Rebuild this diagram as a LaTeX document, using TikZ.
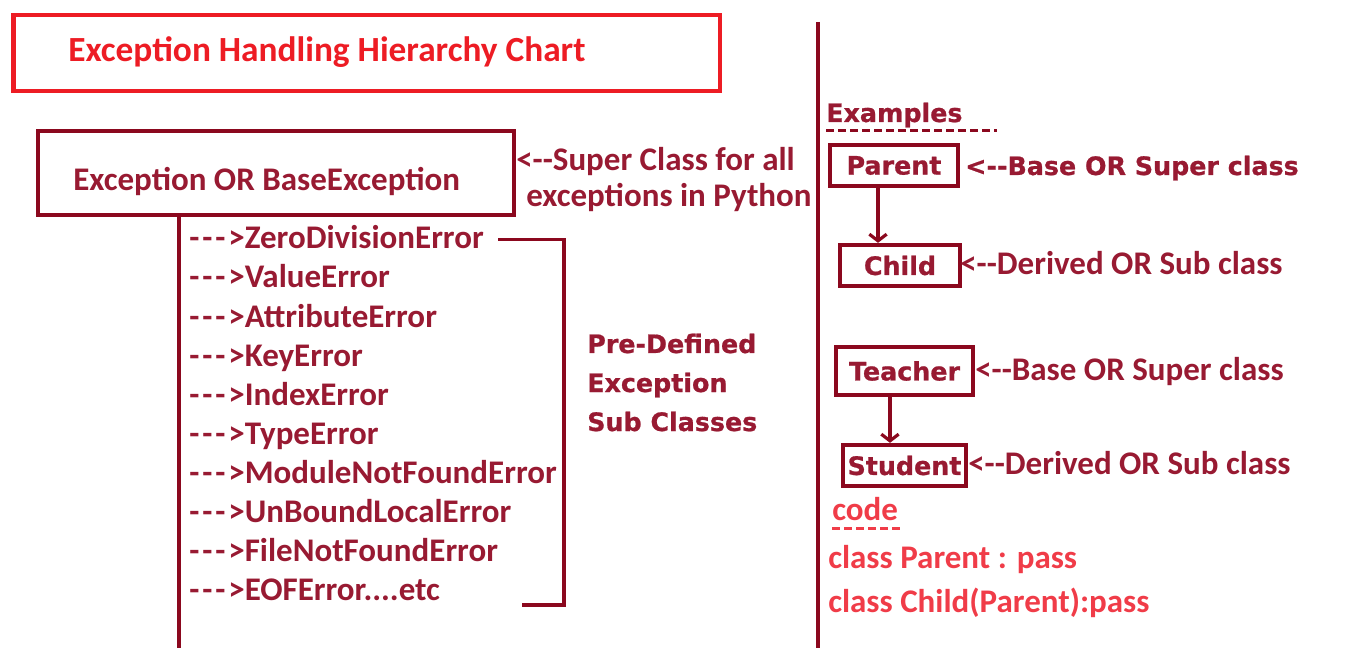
\documentclass[tikz,border=0pt]{standalone}
\usepackage{fontspec}
\setmainfont{Carlito}
\newfontfamily\heavyfont{DejaVu Sans}[BoldFeatures={FakeBold=0.8}]
\usetikzlibrary{positioning,arrows.meta,calc}
\definecolor{boxred}{RGB}{139,8,30}
\definecolor{txtred}{RGB}{152,26,50}
\definecolor{titlered}{RGB}{237,28,36}
\definecolor{codered}{RGB}{240,60,72}
\newcommand{\darr}{-\kern2.2pt-\kern2.2pt-\kern2.2pt>}

\begin{document}
\begin{tikzpicture}[x=0.75pt, y=-0.75pt,
  every node/.style={inner sep=0pt},
  calibri/.style={font=\bfseries\fontsize{24.75}{29}\selectfont, text=txtred, anchor=base west},
  heavy/.style={font=\heavyfont\bfseries\fontsize{19}{29}\selectfont, text=txtred, anchor=base west},
  frame/.style={draw=boxred, line width=3.2pt},
  classbox/.style={frame, heavy, anchor=center, minimum width=#1},
  wire/.style={boxred, line width=2.4pt},
  arr/.style={wire, -{Straight Barb[length=5pt,width=13pt]}}]
  \useasboundingbox (0,0) rectangle (1355,648);

  % title
  \node[draw=titlered, line width=3.5pt, minimum width=530pt, minimum height=57pt] (titlebox) at (366.5,53) {};
  \node[calibri, text=titlered, font=\bfseries\fontsize{26.5}{30}\selectfont] (title) at (68,62) {Exception Handling Hierarchy Chart};

  % left part
  \node[frame, minimum width=357pt, minimum height=63pt] (exbox) at (276,173) {};
  \node[calibri] (exname) at (73,191) {Exception OR BaseException};
  \node[calibri] (superlbl) at (516,171) {<-{}-Super Class for all};
  \node[calibri] (superlbl2) at (526,207) {exceptions in Python};

  \coordinate (trunkend) at (179,648);
  \draw[wire, line width=3pt] (exbox.south -| trunkend) -- (trunkend);

  \foreach \name [count=\i] in {ZeroDivisionError, ValueError, AttributeError, KeyError,
      IndexError, TypeError, ModuleNotFoundError, UnBoundLocalError, FileNotFoundError, {EOFError.{}.{}.{}.etc}}
    \node[calibri] (err\i) at (189, 210+39*\i) {\darr\name};

  \coordinate (brk) at (564,605);
  \coordinate (brkend) at (522,605);
  \draw[wire] ($(err1.east)+(14,2)$) -| (brk) -- (brkend);

  \foreach \txt [count=\j] in {Pre-Defined, Exception, Sub Classes}
    \node[heavy] (pre\j) at (587, 314+39*\j) {\txt};

  % divider
  \coordinate (divtop) at (818,22);
  \coordinate (divbot) at (818,648);
  \draw[wire] (divtop) -- (divbot);

  % examples
  \node[heavy] (examples) at (826,122) {Examples};
  \draw[wire, line width=2pt, dash pattern=on 6pt off 3pt] ($(examples.south west)+(0,3)$) -- ++(171,0);

  \node[classbox=96pt, minimum height=30.75pt] (parent) at (894,165.5) {Parent};
  \node[classbox=90pt, minimum height=30.75pt] (child) at (900,265.5) {Child};
  \node[classbox=102.75pt, minimum height=36pt] (teacher) at (904.5,371) {Teacher};
  \node[classbox=92.25pt, minimum height=30.75pt] (student) at (904.5,465.5) {Student};

  \draw[arr] ([xshift=-12pt]parent.south) -- ([xshift=-12pt]parent.south |- child.north);
  \draw[arr] ([xshift=-10.9pt]teacher.south) -- ([xshift=-10.9pt]teacher.south |- student.north);

  \node[heavy] (parentlbl) at (965,175) {<-{}-Base OR Super class};
  \node[calibri] (childlbl) at (960,275) {<-{}-Derived OR Sub class};
  \node[calibri] (teacherlbl) at (975,380) {<-{}-Base OR Super class};
  \node[calibri] (studentlbl) at (968,474) {<-{}-Derived OR Sub class};

  % code
  \node[calibri, text=codered] (code) at (832,520) {code};
  \draw[codered, line width=2pt, dash pattern=on 6pt off 3pt] ($(code.south west)+(0,8)$) -- ++(68,0);
  \node[calibri, text=codered] (codeline1) at (828,568) {class Parent : pass};
  \node[calibri, text=codered] (codeline2) at (828,612) {class Child(Parent):pass};
\end{tikzpicture}
\end{document}
